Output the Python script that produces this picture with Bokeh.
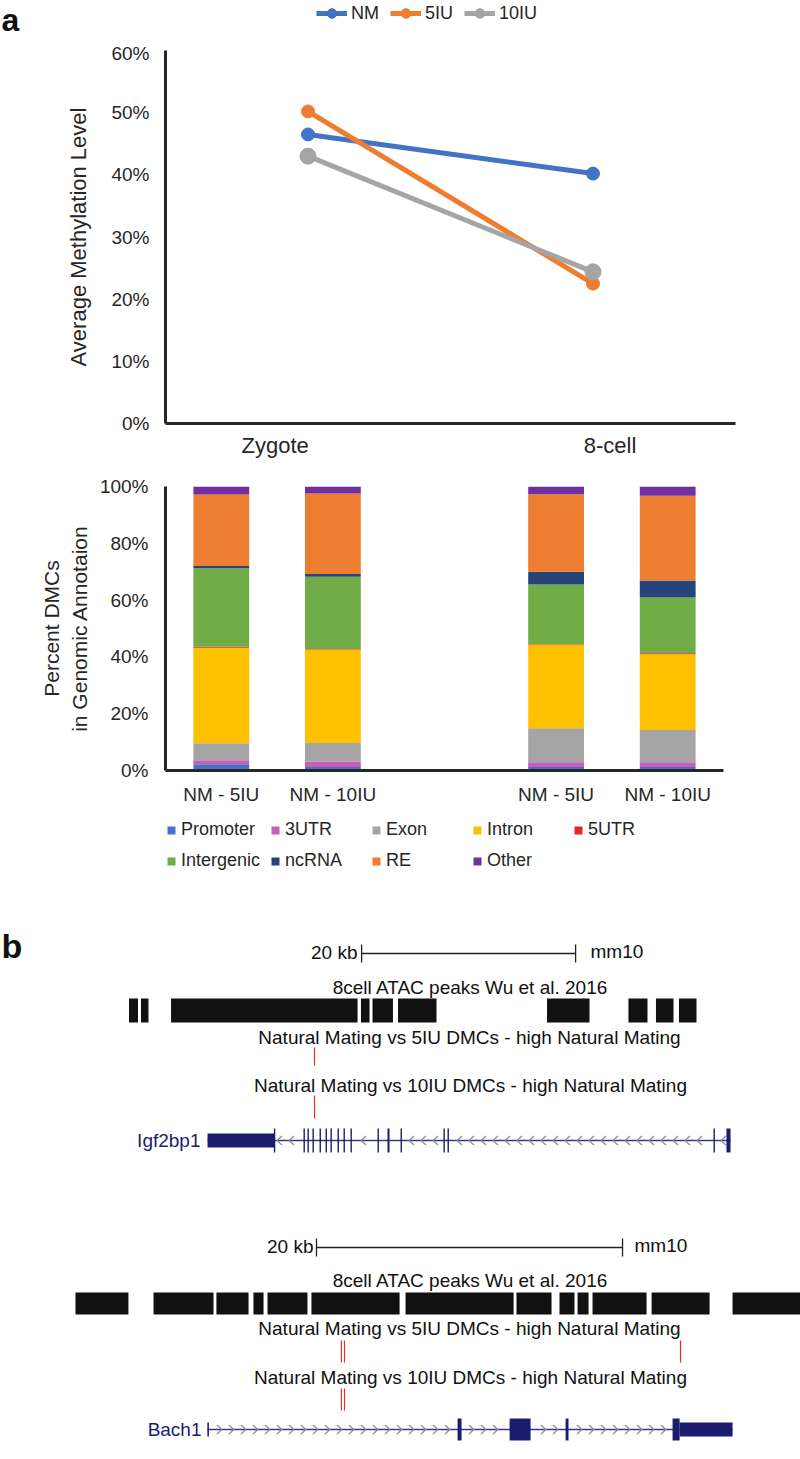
from bokeh.plotting import figure
from bokeh.models import (Range1d, Legend, LegendItem, Label,
                          FixedTicker, PrintfTickFormatter, ColumnDataSource)
from bokeh.embed import file_html
from bokeh.resources import INLINE

FONT = "Liberation Sans"
AXIS = "#262626"
W = 800
NAN = float("nan")

# ---------------- Panel a (top): average methylation ----------------
stages = ["Zygote", "8-cell"]
groups = ["NM", "5IU", "10IU"]
nm_meth = [46.5, 40.2]
iu5_meth = [50.2, 22.5]
iu10_meth = [43.0, 24.4]
meth_ticks = [0, 10, 20, 30, 40, 50, 60]

# ---------------- Panel a (bottom): DMC genomic annotation ----------------
comparisons = ["NM - 5IU", "NM - 10IU"]
annotations = ["Promoter", "3UTR", "Exon", "Intron", "5UTR",
               "Intergenic", "ncRNA", "RE", "Other"]
# bars: Zygote NM-5IU, Zygote NM-10IU, 8-cell NM-5IU, 8-cell NM-10IU
promoter = [2.2, 1.2, 1.2, 1.2]
utr3 = [1.4, 2.0, 1.7, 1.7]
exon = [6.0, 6.5, 12.0, 11.4]
intron = [33.6, 32.9, 29.5, 26.6]
utr5 = [0.4, 0.2, 0.1, 0.4]
intergenic = [27.6, 25.4, 21.0, 19.6]
ncrna = [0.8, 1.0, 4.5, 6.0]
re_ = [25.2, 28.3, 27.3, 29.8]
other = [2.8, 2.5, 2.7, 3.3]
pct_ticks = [0, 20, 40, 60, 80, 100]

# ---------------- Panel b: browser tracks (positions in kb) ----------------
igf_view = [-0.75, 74.02]
igf_scale = [33.0, 53.0]
igf_atac_start = [11.26, 12.38, 15.19, 32.94, 34.02, 36.40, 50.33, 57.94, 60.51, 62.66]
igf_atac_end = [12.10, 13.08, 32.62, 33.74, 35.93, 40.00, 54.30, 59.72, 62.15, 64.30]
igf_dmc_5iu = [28.60]
igf_dmc_10iu = [28.60]
igf_tx = [18.60, 67.48]
igf_utr_start = [18.60]
igf_utr_end = [24.86]
igf_exon_start = [24.80, 27.57, 27.94, 28.41, 29.07, 29.63, 30.09, 30.75, 31.31,
                  31.96, 34.49, 35.42, 36.64, 40.65, 41.03, 65.89, 67.10]
igf_exon_end = [24.93, 27.70, 28.07, 28.54, 29.20, 29.76, 30.22, 30.88, 31.44,
                32.09, 34.62, 35.61, 36.77, 40.78, 41.16, 66.02, 67.48]

bach_view = [-0.52, 51.76]
bach_scale = [20.13, 40.13]
bach_atac_start = [4.38, 9.48, 13.59, 16.01, 16.93, 19.80, 25.95, 33.20, 36.01,
                   37.19, 38.17, 42.03, 47.32]
bach_atac_end = [7.84, 13.40, 15.69, 16.67, 19.54, 25.56, 33.01, 35.49, 36.99,
                 37.91, 41.70, 45.82, 51.76]
bach_dmc_5iu = [21.76, 21.96, 43.92]
bach_dmc_10iu = [21.76, 21.96]
bach_tx = [13.00, 47.32]
bach_utr_start = [13.00, 43.86]
bach_utr_end = [13.10, 47.32]
bach_exon_start = [29.35, 32.75, 36.41, 43.40]
bach_exon_end = [29.61, 34.12, 36.60, 43.86]


def style_axis(ax, size):
    ax.axis_line_width = 3
    ax.axis_line_color = AXIS
    ax.major_tick_line_color = None
    ax.minor_tick_line_color = None
    ax.major_tick_out = 0
    ax.major_tick_in = 0
    ax.minor_tick_out = 0
    ax.major_label_text_font = FONT
    ax.major_label_text_font_size = size
    ax.major_label_text_color = AXIS
    ax.axis_label_text_font = FONT
    ax.axis_label_text_font_style = "normal"
    ax.axis_label_text_color = AXIS


def blank_fig(height, xr, yr):
    p = figure(frame_width=W, frame_height=height, min_border=0,
               x_range=Range1d(*xr), y_range=Range1d(*yr),
               x_axis_location=None, y_axis_location=None,
               output_backend="svg", toolbar_location=None)
    p.grid.visible = False
    p.outline_line_color = None
    return p


# ===================== header: panel letter + line legend =====================
line_colors = ["#4472C4", "#ED7D31", "#A5A5A5"]
marker_sizes = [13, 13, 16]
head = blank_fig(42, (0, W), (42, 0))
head.add_layout(Label(x=1, y=1, x_units="screen", y_units="data", text="a",
                      text_font=FONT, text_font_size="32px", text_font_style="bold",
                      text_baseline="top", text_color="#111111"))
head_items = []
for name, col in zip(groups, line_colors):
    ln = head.line(x=[NAN], y=[NAN], line_width=5, color=col)
    sc = head.scatter(x=[NAN], y=[NAN], size=10, color=col)
    head_items.append(LegendItem(label=name, renderers=[ln, sc]))
head.add_layout(Legend(items=head_items, orientation="horizontal", location=(316, 17),
                       glyph_width=31, glyph_height=24, label_standoff=4, spacing=11,
                       padding=0, margin=0, border_line_color=None, background_fill_alpha=0,
                       label_text_font=FONT, label_text_font_size="18px",
                       label_text_color=AXIS))

# ===================== line chart =====================
stage_x = [i + 0.5 for i in range(len(stages))]
stage_label_shift = [-0.115, 0.06]
stage_label_x = [round(x + s, 3) for x, s in zip(stage_x, stage_label_shift)]

p1 = figure(frame_width=570, frame_height=373,
            min_border_left=165, min_border_right=65, min_border_top=8, min_border_bottom=45,
            x_range=Range1d(0, len(stages)), y_range=Range1d(0, 60),
            output_backend="svg", toolbar_location=None)
p1.grid.visible = False
p1.outline_line_color = None
style_axis(p1.xaxis[0], "22px")
style_axis(p1.yaxis[0], "19px")
p1.xaxis.ticker = FixedTicker(ticks=stage_label_x)
p1.xaxis.major_label_overrides = {x: s for x, s in zip(stage_label_x, stages)}
p1.xaxis.major_label_standoff = 9
p1.yaxis.ticker = FixedTicker(ticks=meth_ticks)
p1.yaxis.formatter = PrintfTickFormatter(format="%d%%")
p1.yaxis.major_label_standoff = 16
p1.yaxis.axis_label = "Average Methylation Level"
p1.yaxis.axis_label_text_font_size = "22px"
p1.yaxis.axis_label_standoff = 17

for vals, col, sz in zip([nm_meth, iu5_meth, iu10_meth], line_colors, marker_sizes):
    p1.line(stage_x, vals, line_width=5, color=col)
    p1.scatter(stage_x, vals, size=sz, color=col)

# ===================== stacked bars =====================
n_slot = len(comparisons) + 1
bar_x = [g * n_slot + i + 0.5 for g in range(len(stages)) for i in range(len(comparisons))]
bar_labels = [c for _ in stages for c in comparisons]
ann_values = [promoter, utr3, exon, intron, utr5, intergenic, ncrna, re_, other]
ann_colors = ["#4472C4", "#CC5CB8", "#A5A5A5", "#FFC000", "#E8232A",
              "#70AD47", "#264478", "#ED7D31", "#7030A0"]
src = ColumnDataSource(dict(x=bar_x, **{a: v for a, v in zip(annotations, ann_values)}))

p2 = figure(frame_width=558, frame_height=284,
            min_border_left=165, min_border_right=77, min_border_top=18, min_border_bottom=44,
            x_range=Range1d(0, len(stages) * n_slot - 1), y_range=Range1d(0, 100),
            output_backend="svg", toolbar_location=None)
p2.grid.visible = False
p2.outline_line_color = None
p2.vbar_stack(annotations, x="x", width=0.5, fill_color=ann_colors,
              line_color=None, source=src)
style_axis(p2.xaxis[0], "19px")
style_axis(p2.yaxis[0], "19px")
p2.xaxis.ticker = FixedTicker(ticks=bar_x)
p2.xaxis.major_label_overrides = {x: s for x, s in zip(bar_x, bar_labels)}
p2.xaxis.major_label_standoff = 13
p2.yaxis.ticker = FixedTicker(ticks=pct_ticks)
p2.yaxis.formatter = PrintfTickFormatter(format="%d%%")
p2.yaxis.major_label_standoff = 17
p2.yaxis.axis_label = "Percent DMCs\nin Genomic Annotaion"
p2.yaxis.axis_label_text_font_size = "21px"
p2.yaxis.axis_label_standoff = 6

# ===================== annotation legend =====================
legf = blank_fig(76, (0, W), (76, 0))
leg_items = []
for a, c in zip(annotations, ann_colors):
    r = legf.vbar(x=[NAN], top=[NAN], width=0.5, fill_color=c, line_color=None)
    leg_items.append(LegendItem(label=a, renderers=[r]))
legf.add_layout(Legend(items=leg_items, orientation="horizontal", ncols=5, location=(166, 19),
                       glyph_width=10, glyph_height=10, label_standoff=5, label_width=76,
                       spacing=10, padding=0, margin=0, border_line_color=None,
                       background_fill_alpha=0, label_text_font=FONT,
                       label_text_font_size="18px", label_text_color=AXIS))

# ===================== browser tracks =====================
GENE = "#1C1C6E"
LINE = "#3A3A72"
CHEV = "#8C8CAA"
RED = "#E0302A"


def chevrons(tx, blocks, spacing, hw, hh, y, direction):
    xs, ys = [], []
    n = int((tx[1] - tx[0]) / spacing)
    for i in range(1, n + 1):
        x = tx[0] + i * spacing
        if x + hw >= tx[1]:
            break
        if any(b0 - hw * 1.2 <= x <= b1 + hw * 1.2 for b0, b1 in blocks):
            continue
        if direction < 0:
            xs.append([x + hw, x - hw, x + hw])
        else:
            xs.append([x - hw, x + hw, x - hw])
        ys.append([y - hh, y, y + hh])
    return xs, ys


def track_fig(height, view, px_per_kb, scale, rows, atac_s, atac_e, dmc5, dmc10,
              tx, utr_s, utr_e, ex_s, ex_e, gene_name, strand, label_pos, panel_letter):
    p = blank_fig(height, view, (height, 0))
    txt = dict(x_units="screen", y_units="data", text_font=FONT,
               text_font_size="19px", text_baseline="middle", text_color="#111111")
    sb = rows["scale"]
    p.segment(x0=[scale[0]], x1=[scale[1]], y0=[sb], y1=[sb], line_color="#222222", line_width=1.3)
    p.segment(x0=scale, x1=scale, y0=[sb - 9] * 2, y1=[sb + 9] * 2, line_color="#222222", line_width=1.3)
    p.add_layout(Label(x=label_pos["kb"], y=sb - 1, text="20 kb", text_align="right", **txt))
    p.add_layout(Label(x=label_pos["mm10"], y=sb - 2, text="mm10", text_align="left", **txt))
    p.add_layout(Label(x=470, y=rows["atac_t"], text="8cell ATAC peaks Wu et al. 2016",
                       text_align="center", **txt))
    a0, a1 = rows["atac"]
    p.quad(left=atac_s, right=atac_e, top=[a0] * len(atac_s), bottom=[a1] * len(atac_s),
           fill_color="#111111", line_color=None)
    p.add_layout(Label(x=469, y=rows["d5_t"],
                       text="Natural Mating vs 5IU DMCs - high Natural Mating",
                       text_align="center", **txt))
    d0, d1 = rows["d5"]
    p.segment(x0=dmc5, x1=dmc5, y0=[d0] * len(dmc5), y1=[d1] * len(dmc5), line_color=RED, line_width=1.2)
    p.add_layout(Label(x=470, y=rows["d10_t"],
                       text="Natural Mating vs 10IU DMCs - high Natural Mating",
                       text_align="center", **txt))
    d0, d1 = rows["d10"]
    p.segment(x0=dmc10, x1=dmc10, y0=[d0] * len(dmc10), y1=[d1] * len(dmc10), line_color=RED, line_width=1.2)
    gy = rows["gene"]
    p.segment(x0=[tx[0]], x1=[tx[1]], y0=[gy], y1=[gy], line_color=LINE, line_width=1.6)
    blocks = list(zip(utr_s, utr_e)) + list(zip(ex_s, ex_e))
    hw = 2.4 / px_per_kb
    cx, cy = chevrons(tx, blocks, 12.0 / px_per_kb, hw, 4.5, gy, strand)
    p.multi_line(cx, cy, line_color=CHEV, line_width=1.3)
    uh, eh = rows["utr_h"], rows["exon_h"]
    p.quad(left=utr_s, right=utr_e, top=[gy - uh] * len(utr_s), bottom=[gy + uh] * len(utr_s),
           fill_color=GENE, line_color=None)
    p.quad(left=ex_s, right=ex_e, top=[gy - eh] * len(ex_s), bottom=[gy + eh] * len(ex_s),
           fill_color=GENE, line_color=None)
    p.add_layout(Label(x=label_pos["gene"], y=gy, text=gene_name, text_align="right",
                       x_units="screen", y_units="data", text_font=FONT,
                       text_font_size="19px", text_baseline="middle", text_color=GENE))
    if panel_letter:
        p.add_layout(Label(x=1, y=rows["letter"], x_units="screen", y_units="data",
                           text=panel_letter, text_font=FONT, text_font_size="34px",
                           text_font_style="bold", text_baseline="middle",
                           text_color="#111111"))
    return p


igf_rows = dict(letter=55, scale=63, atac_t=97, atac=(108, 132), d5_t=147, d5=(157, 175),
                d10_t=195, d10=(205, 228), gene=250, utr_h=7, exon_h=12)
p3 = track_fig(280, igf_view, 10.7, igf_scale, igf_rows, igf_atac_start, igf_atac_end,
               igf_dmc_5iu, igf_dmc_10iu, igf_tx, igf_utr_start, igf_utr_end,
               igf_exon_start, igf_exon_end, "Igf2bp1", -1,
               dict(kb=357, mm10=590, gene=200), "b")

bach_rows = dict(scale=77, atac_t=110, atac=(122, 144), d5_t=158, d5=(170, 192),
                 d10_t=207, d10=(218, 240), gene=259, utr_h=7, exon_h=11)
p4 = track_fig(281, bach_view, 15.3, bach_scale, bach_rows, bach_atac_start, bach_atac_end,
               bach_dmc_5iu, bach_dmc_10iu, bach_tx, bach_utr_start, bach_utr_end,
               bach_exon_start, bach_exon_end, "Bach1", 1,
               dict(kb=313, mm10=634, gene=201), None)

open("out.html", "w").write(file_html([head, p1, p2, legf, p3, p4], INLINE))
